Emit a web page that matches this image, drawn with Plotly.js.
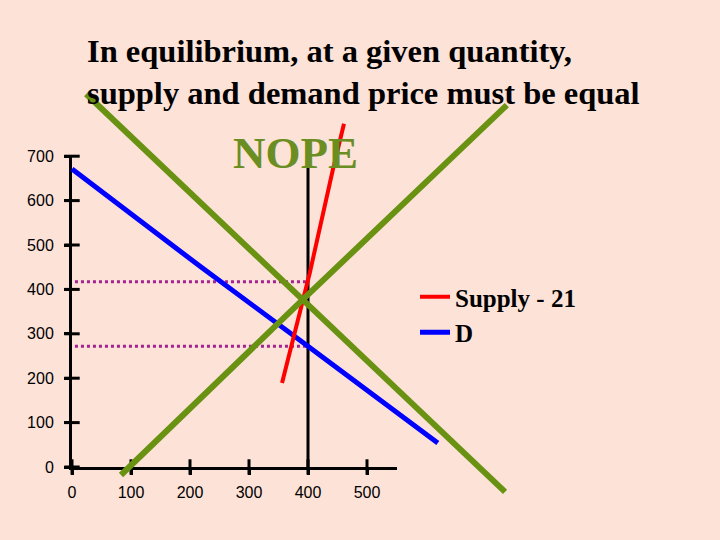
<!DOCTYPE html>
<html>
<head>
<meta charset="utf-8">
<script src="https://cdn.plot.ly/plotly-3.0.1.min.js"></script>
<style>
  html, body { margin: 0; padding: 0; background: #fde2d8; }
  #chart { width: 720px; height: 540px; }
</style>
</head>
<body>
<div id="chart"></div>
<script>
// tick labels
const xTicks = [0, 100, 200, 300, 400, 500];
const yTicks = [0, 100, 200, 300, 400, 500, 600, 700];

// demand (blue) and supply (red)
const demandQ = [0, 217, 400, 620];
const demandP = [671, 452, 272, 54];
const supplyQ = [356, 375, 403, 442, 461];
const supplyP = [189, 286, 437, 669, 773];

// the big green X
const crossDownQ = [24, 392, 734];
const crossDownP = [840, 378, -56];
const crossUpQ = [83, 392, 737];
const crossUpP = [-18, 378, 815];

// reference lines
const refQ = [400, 400];
const refP = [0, 675];
const dotQ = [5, 400];
const dotHigh = [417, 417];
const dotLow = [272, 272];

const green = '#6a9212';
const bg = '#fde2d8';

// full-page axes used for drawing, small axes only for ticks
const sx = 0.59, sy = 0.444, x0 = 72, y0 = 467;

const traces = [
  { x: dotQ, y: dotHigh, mode: 'lines', line: { color: '#a3238f', width: 3, dash: 'dot' }, showlegend: false, xaxis: 'x2', yaxis: 'y2' },
  { x: dotQ, y: dotLow, mode: 'lines', line: { color: '#a3238f', width: 3, dash: 'dot' }, showlegend: false, xaxis: 'x2', yaxis: 'y2' },
  { x: refQ, y: refP, mode: 'lines', line: { color: '#000', width: 3 }, showlegend: false, xaxis: 'x2', yaxis: 'y2' },
  // tick marks crossing the axes
  { x: xTicks, y: xTicks.map(() => 0), mode: 'markers', marker: { symbol: 'line-ns', size: 11, line: { width: 3, color: '#000' } }, showlegend: false, cliponaxis: false, xaxis: 'x', yaxis: 'y' },
  { x: yTicks.map(() => 0), y: yTicks, mode: 'markers', marker: { symbol: 'line-ew', size: 11, line: { width: 3, color: '#000' } }, showlegend: false, cliponaxis: false, xaxis: 'x', yaxis: 'y' },
  { x: demandQ, y: demandP, mode: 'lines', name: 'D', line: { color: '#0000ff', width: 5 }, xaxis: 'x2', yaxis: 'y2', legendrank: 2 },
  { x: supplyQ, y: supplyP, mode: 'lines', name: 'Supply - 21', line: { color: '#ff0000', width: 4 }, xaxis: 'x2', yaxis: 'y2', legendrank: 1 },
  { x: crossDownQ, y: crossDownP, mode: 'lines', line: { color: green, width: 6 }, showlegend: false, xaxis: 'x2', yaxis: 'y2' },
  { x: crossUpQ, y: crossUpP, mode: 'lines', line: { color: green, width: 6 }, showlegend: false, xaxis: 'x2', yaxis: 'y2' }
];

const tickFont = { family: 'Liberation Sans, Arial, sans-serif', size: 16, color: '#000' };

const xDomain = [x0 / 720, (x0 + sx * 550) / 720];
const yDomain = [(540 - y0) / 540, (540 - y0 + sy * 700) / 540];

const layout = {
  width: 720,
  height: 540,
  margin: { l: 0, r: 0, t: 0, b: 0 },
  paper_bgcolor: bg,
  plot_bgcolor: 'rgba(0,0,0,0)',
  title: {
    text: '<b>In equilibrium, at a given quantity,<br>supply and demand price must be equal</b>',
    font: { family: 'Liberation Serif, Times New Roman, serif', size: 32.5, color: '#000' },
    x: 87 / 720, xanchor: 'left',
    y: 1 - 62 / 540, yanchor: 'top'
  },
  xaxis: {
    domain: xDomain,
    range: [0, 550],
    anchor: 'y',
    tickvals: xTicks,
    ticktext: xTicks.map(String),
    ticks: 'outside', ticklen: 5, tickwidth: 3, tickcolor: '#000',
    showline: true, linewidth: 3, linecolor: '#000',
    showgrid: false, zeroline: false,
    tickfont: tickFont,
    ticklabelstandoff: 4,
    fixedrange: true
  },
  yaxis: {
    domain: yDomain,
    range: [0, 700],
    anchor: 'x',
    tickvals: yTicks,
    ticktext: yTicks.map(String),
    ticks: 'outside', ticklen: 5, tickwidth: 3, tickcolor: '#000',
    showline: true, linewidth: 3, linecolor: '#000',
    showgrid: false, zeroline: false,
    tickfont: tickFont,
    ticklabelstandoff: 7,
    fixedrange: true
  },
  xaxis2: {
    domain: [0, 1], anchor: 'y2',
    range: [-x0 / sx, (720 - x0) / sx],
    visible: false, fixedrange: true
  },
  yaxis2: {
    domain: [0, 1], anchor: 'x2',
    range: [-(540 - y0) / sy, y0 / sy],
    visible: false, fixedrange: true
  },
  legend: {
    x: 415 / 720, xanchor: 'left',
    y: 1 - 274 / 540, yanchor: 'top',
    bgcolor: 'rgba(0,0,0,0)',
    font: { family: 'Liberation Serif, Times New Roman, serif', size: 25, color: '#000', weight: 'bold' },
    itemwidth: 30,
    tracegroupgap: 0
  },
  annotations: [
    {
      text: '<b>NOPE</b>',
      xref: 'paper', yref: 'paper',
      x: 295 / 720, y: 1 - 153 / 540,
      xanchor: 'center', yanchor: 'middle',
      showarrow: false,
      font: { family: 'Liberation Serif, Times New Roman, serif', size: 45, color: '#6b8e23' }
    }
  ]
};

Plotly.newPlot('chart', traces, layout, { displayModeBar: false, staticPlot: true });
</script>
</body>
</html>
